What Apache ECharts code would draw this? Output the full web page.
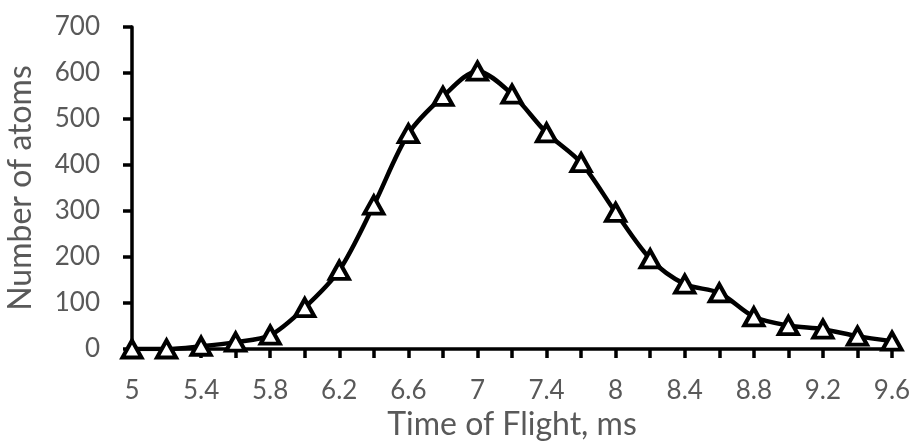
<!DOCTYPE html>
<html>
<head>
<meta charset="utf-8">
<script src="https://cdn.jsdelivr.net/npm/echarts@6/dist/echarts.min.js"></script>
<style>
  html, body { margin: 0; padding: 0; background: #ffffff; }
  #chart { width: 915px; height: 441px; }
</style>
</head>
<body>
<div id="chart"></div>
<script>
// Time-of-flight samples (ms) and counted atoms at each
const flightTimes = ['5', '5.2', '5.4', '5.6', '5.8', '6', '6.2', '6.4', '6.6', '6.8', '7', '7.2',
                     '7.4', '7.7', '8', '8.2', '8.4', '8.6', '8.8', '9', '9.2', '9.4', '9.6'];
const atomCounts = [0, 0, 6, 15, 30, 90, 171, 313, 468, 549, 604, 554,
                    470, 405, 297, 196, 141, 122, 70, 51, 43, 28, 17];

const yMin = 0, yMax = 700, yStep = 100;

const textColor = '#595959';
const fontFamily = 'Lato, "Liberation Sans", sans-serif';

const chart = echarts.init(document.getElementById('chart'), null, { renderer: 'canvas' });

chart.setOption({
  animation: false,
  backgroundColor: '#ffffff',
  grid: { left: 132, right: 23, top: 27, bottom: 92, containLabel: false, outerBoundsMode: 'none' },
  xAxis: {
    type: 'category',
    data: flightTimes,
    boundaryGap: false,
    name: 'Time of Flight, ms',
    nameLocation: 'middle',
    nameGap: 55,
    nameTextStyle: { color: textColor, fontSize: 32, fontFamily: fontFamily },
    axisLine: { show: true, lineStyle: { color: '#000000', width: 3.5 } },
    axisTick: { show: true, interval: 0, length: 9, lineStyle: { color: '#000000', width: 3.5 } },
    axisLabel: { interval: 1, color: textColor, fontSize: 26, fontFamily: fontFamily, margin: 29 },
    splitLine: { show: false }
  },
  yAxis: {
    type: 'value',
    min: yMin,
    max: yMax,
    interval: yStep,
    name: 'Number of atoms',
    nameLocation: 'middle',
    nameGap: 95,
    nameRotate: 90,
    nameTextStyle: { color: textColor, fontSize: 32, fontFamily: fontFamily },
    axisLine: { show: true, lineStyle: { color: '#000000', width: 3.5 } },
    axisTick: { show: true, length: 9, lineStyle: { color: '#000000', width: 3.5 } },
    axisLabel: { color: textColor, fontSize: 26, fontFamily: fontFamily, margin: 32 },
    splitLine: { show: false }
  },
  series: [{
    type: 'line',
    data: atomCounts,
    smooth: 0.3,
    symbol: 'triangle',
    symbolSize: [19, 17],
    showAllSymbol: true,
    lineStyle: { color: '#000000', width: 4.5 },
    itemStyle: { color: '#ffffff', borderColor: '#000000', borderWidth: 4 },
    z: 3
  }]
});
</script>
</body>
</html>
